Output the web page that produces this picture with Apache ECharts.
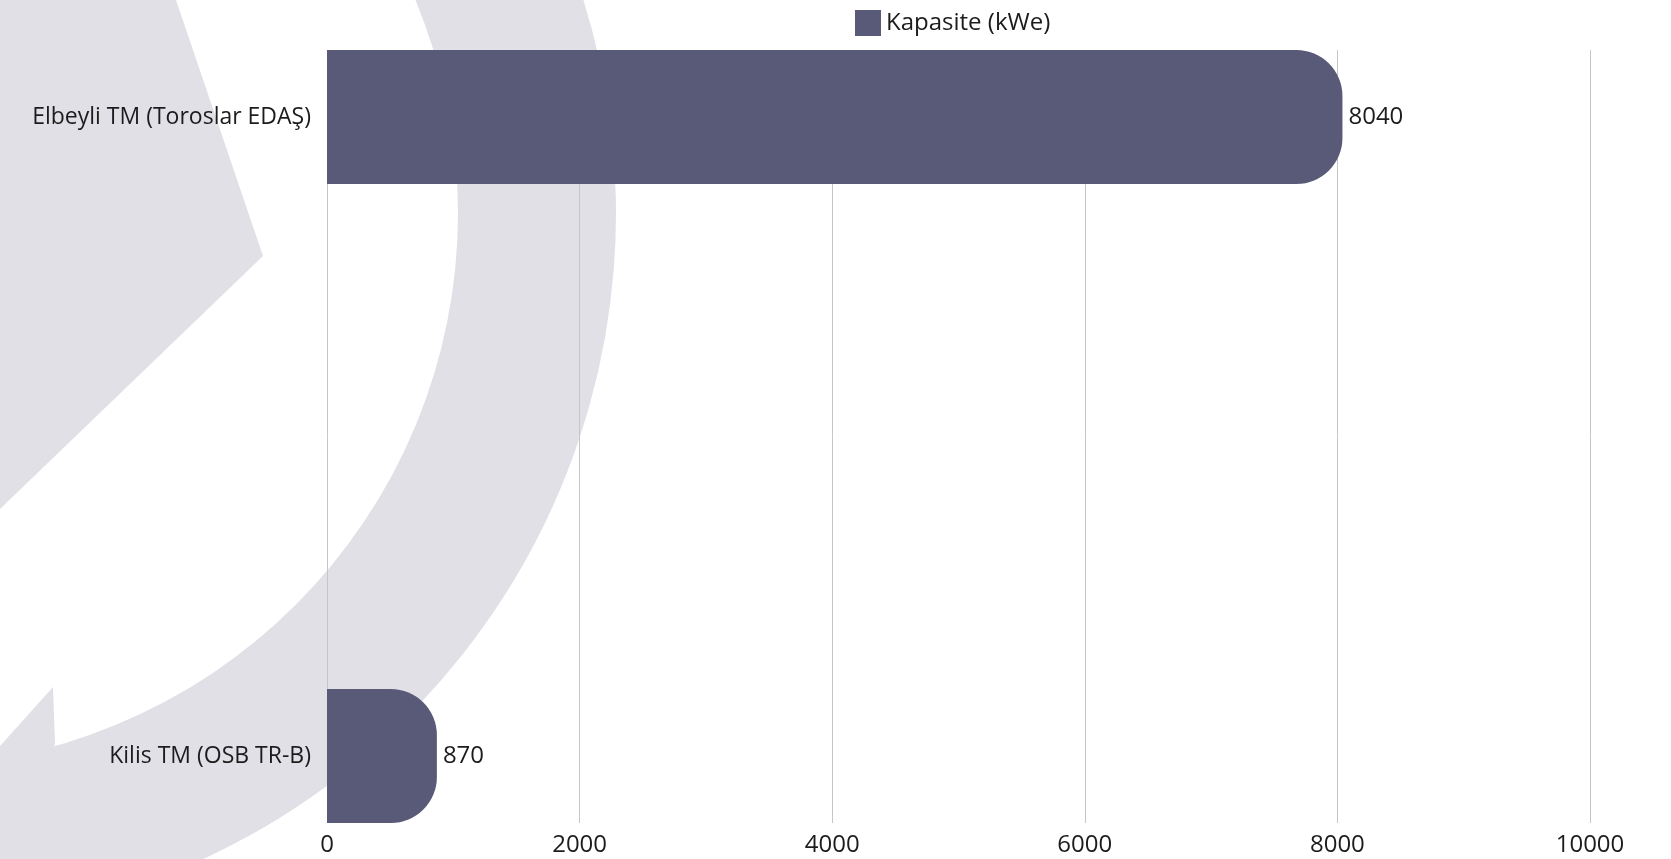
<!DOCTYPE html>
<html>
<head>
<meta charset="utf-8">
<title>Kapasite (kWe)</title>
<script src="https://cdn.jsdelivr.net/npm/echarts@6/dist/echarts.min.js"></script>
<style>
    html, body { margin: 0; padding: 0; background: #ffffff; }
    #chart { width: 1671px; height: 859px; }
</style>
</head>
<body>
<div id="chart"></div>
<script>
// Veriler
const categories = ['Elbeyli TM (Toroslar EDAŞ)', 'Kilis TM (OSB TR-B)'];
const values = [8040, 870];
const seriesName = 'Kapasite (kWe)';
const xTicks = [0, 2000, 4000, 6000, 8000, 10000];

const barColor = '#595a78';
const textColor = '#1c1c1c';
const wmColor = '#e1e0e7';
const fontFamily = '"Open Sans", "DejaVu Sans", sans-serif';
const fontSize = 24;

const xMin = xTicks[0];
const xMax = xTicks[xTicks.length - 1];

const chart = echarts.init(document.getElementById('chart'));

chart.setOption({
    animation: false,
    textStyle: { fontFamily: fontFamily },
    // arka plan filigranı
    graphic: [
        {
            type: 'polygon', z: -10, silent: true,
            shape: { points: [[0, 0], [176, 0], [263, 256], [0, 509]] },
            style: { fill: wmColor }
        },
        {
            type: 'sector', z: -10, silent: true,
            shape: { cx: -96, cy: 213, r0: 554, r: 712, startAngle: -Math.PI * 0.6, endAngle: Math.PI * 0.75, clockwise: true },
            style: { fill: wmColor }
        },
        {
            type: 'polygon', z: -10, silent: true,
            shape: { points: [[53, 687], [55, 744], [-53, 959], [-53, 805]] },
            style: { fill: wmColor }
        }
    ],
    legend: {
        top: 5,
        left: 850,
        icon: 'rect',
        itemWidth: 26,
        itemHeight: 26,
        itemGap: 8,
        data: [seriesName],
        textStyle: { fontSize: fontSize, color: textColor, fontFamily: fontFamily }
    },
    grid: [
        // çubuklar: kategoriler çubuk ortalarında
        { left: 327, right: 81, top: 117, bottom: 103 },
        // ızgara çizgileri ve x etiketleri
        { left: 327, right: 81, top: 50, bottom: 36 }
    ],
    xAxis: [
        {
            type: 'value', gridIndex: 0, min: xMin, max: xMax,
            axisLine: { show: false }, axisTick: { show: false },
            axisLabel: { show: false }, splitLine: { show: false }
        },
        {
            type: 'value', gridIndex: 1, min: xMin, max: xMax,
            interval: xTicks[1] - xTicks[0],
            axisLine: { show: false },
            axisTick: { show: false },
            axisLabel: { fontSize: fontSize, color: textColor, margin: 10, formatter: v => String(v) },
            splitLine: { show: true, lineStyle: { color: '#c6c6c6', width: 1 } }
        }
    ],
    yAxis: [
        {
            type: 'category', gridIndex: 0,
            inverse: true,
            boundaryGap: false,
            data: categories,
            axisLine: { show: false },
            axisTick: { show: false },
            splitLine: { show: false },
            axisLabel: { fontSize: 23, color: textColor, margin: 16 }
        },
        {
            type: 'category', gridIndex: 1, data: categories, show: false
        }
    ],
    series: [{
        name: seriesName,
        type: 'bar',
        xAxisIndex: 0,
        yAxisIndex: 0,
        data: values,
        barWidth: 134,
        clip: false,
        itemStyle: { color: barColor, borderRadius: [0, 46, 46, 0] },
        label: { show: true, position: 'right', distance: 6, fontSize: fontSize, color: textColor }
    }]
});
</script>
</body>
</html>
